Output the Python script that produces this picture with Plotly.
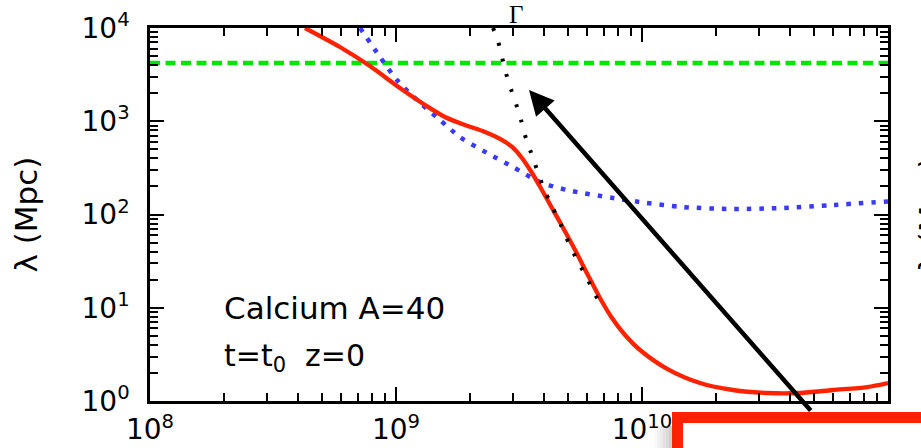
import plotly.graph_objects as go

# ---- data (log10 values) ----
red_logx = [8.630, 8.772, 8.894, 9.016, 9.118, 9.199, 9.280, 9.362, 9.423, 9.472,
            9.512, 9.553, 9.593, 9.634, 9.675, 9.728, 9.780, 9.829, 9.878, 9.931,
            9.992, 10.102, 10.236, 10.370, 10.508, 10.642, 10.776, 10.915, 11.000]
red_logy = [4.000, 3.796, 3.592, 3.356, 3.174, 3.046, 2.960, 2.885, 2.810, 2.724,
            2.606, 2.445, 2.263, 2.070, 1.877, 1.619, 1.351, 1.105, 0.890, 0.708,
            0.547, 0.345, 0.193, 0.118, 0.086, 0.086, 0.118, 0.150, 0.193]

blue_logx = [8.854, 8.935, 9.004, 9.085, 9.179, 9.260, 9.370, 9.476, 9.585, 9.695,
             9.882, 9.992, 10.167, 10.370, 10.573, 10.776, 11.000]
blue_logy = [4.000, 3.689, 3.442, 3.228, 3.013, 2.831, 2.660, 2.509, 2.349, 2.263,
             2.177, 2.134, 2.080, 2.059, 2.070, 2.102, 2.140]

gamma_logx = [9.394, 9.411, 9.447, 9.467, 9.488, 9.508, 9.524, 9.545, 9.565, 9.585,
              9.606, 9.630, 9.650, 9.671, 9.691, 9.711, 9.732, 9.780, 9.821]
gamma_logy = [4.000, 3.893, 3.517, 3.346, 3.185, 3.013, 2.853, 2.692, 2.542, 2.391,
              2.241, 2.123, 1.995, 1.887, 1.759, 1.651, 1.534, 1.298, 1.083]

green_logx = [8.0, 11.0]
green_logy = [3.625, 3.625]

x_tick_vals = [1e8, 1e9, 1e10, 1e11]
x_tick_text = ["10<sup>8</sup>", "10<sup>9</sup>", "10<sup>10</sup>", "10<sup>11</sup>"]
y_tick_vals = [1e0, 1e1, 1e2, 1e3, 1e4]
y_tick_text = ["10<sup>0</sup>", "10<sup>1</sup>", "10<sup>2</sup>", "10<sup>3</sup>", "10<sup>4</sup>"]

RED = "#ff2200"
BLUE = "#3a3aff"
GREEN = "#00e600"
SANS = "DejaVu Sans"

def pw(v):
    return [10 ** a for a in v]

fig = go.Figure()
fig.add_trace(go.Scatter(x=pw(green_logx), y=pw(green_logy), mode="lines",
                         line=dict(color=GREEN, width=4.5, dash="10px,5.5px")))
fig.add_trace(go.Scatter(x=pw(blue_logx), y=pw(blue_logy), mode="lines",
                         line=dict(color=BLUE, width=4.5, dash="4.5px,8px", shape="spline",
                                   smoothing=0.8)))
fig.add_trace(go.Scatter(x=pw(red_logx), y=pw(red_logy), mode="lines",
                         line=dict(color=RED, width=4.3, shape="spline", smoothing=0.8)))
fig.add_trace(go.Scatter(x=pw(gamma_logx), y=pw(gamma_logy), mode="lines",
                         line=dict(color="black", width=4, dash="3px,13px", shape="spline",
                                   smoothing=0.8)))

minor_x = [m * 10 ** k for k in range(8, 11) for m in range(2, 10)]
minor_y = [m * 10 ** k for k in range(0, 4) for m in range(2, 10)]

axis_common = dict(type="log", showline=True, linecolor="black", linewidth=2.5,
                   mirror="ticks", ticks="inside", ticklen=14, tickwidth=2,
                   tickcolor="black", showgrid=False, zeroline=False, automargin=False,
                   tickfont=dict(family=SANS, size=28, color="black"))

fig.update_xaxes(range=[8, 11], tickmode="array", tickvals=x_tick_vals, ticktext=x_tick_text,
                 minor=dict(tickmode="array", tickvals=minor_x, ticks="inside", ticklen=8,
                            tickwidth=1.5, tickcolor="black", showgrid=False),
                 ticklabelstandoff=2, **axis_common)
fig.update_yaxes(range=[0, 4], tickmode="array", tickvals=y_tick_vals, ticktext=y_tick_text,
                 minor=dict(tickmode="array", tickvals=minor_y, ticks="inside", ticklen=8,
                            tickwidth=1.5, tickcolor="black", showgrid=False),
                 ticklabelstandoff=12, **axis_common)

def px_x(p):
    return (p - 150) / 738.0

def px_y(p):
    return (401 - p) / 373.0

annotations = [
    dict(xref="paper", yref="paper", x=px_x(25), y=0.5, text="λ (Mpc)", textangle=-90,
         showarrow=False, font=dict(family=SANS, size=31, color="black"),
         xanchor="center", yanchor="middle"),
    dict(xref="paper", yref="paper", x=px_x(929), y=0.5, text="λ (Mpc)", textangle=-90,
         showarrow=False, font=dict(family=SANS, size=31, color="black"),
         xanchor="center", yanchor="middle"),
    dict(xref="paper", yref="paper", x=px_x(516), y=px_y(15), text="Γ",
         showarrow=False, font=dict(family="Liberation Serif", size=25, color="black"),
         xanchor="center", yanchor="middle"),
    dict(xref="paper", yref="paper", x=px_x(222), y=px_y(308), text="Calcium A=40",
         showarrow=False, font=dict(family=SANS, size=31, color="black"),
         xanchor="left", yanchor="middle"),
    dict(xref="paper", yref="paper", x=px_x(222), y=px_y(357),
         text="t=t<sub>0</sub>\u00a0\u00a0z=0",
         showarrow=False, font=dict(family=SANS, size=30, color="black"),
         xanchor="left", yanchor="middle"),
    dict(xref="x", yref="y", x=9.5407, y=3.335, text="", showarrow=True,
         axref="pixel", ayref="pixel", ax=283, ay=322,
         arrowhead=2, arrowsize=1.1, arrowwidth=4.5, arrowcolor="black", standoff=0),
]

shapes = []
# soft shadow left of the box
for i, op in enumerate([0.05, 0.1, 0.16, 0.23, 0.3, 0.38]):
    shapes.append(dict(type="rect", xref="paper", yref="paper",
                       x0=px_x(654 + 3 * i), x1=px_x(657 + 3 * i),
                       y0=px_y(470), y1=px_y(426),
                       line=dict(width=0), fillcolor="gray", opacity=op, layer="above"))
shapes.append(dict(type="rect", xref="paper", yref="paper",
                   x0=px_x(677.5), x1=px_x(1000), y0=px_y(417.5), y1=px_y(480),
                   line=dict(color=RED, width=11), fillcolor="white", layer="above"))

fig.update_layout(width=921, height=448,
                  margin=dict(l=150, r=33, t=28, b=47, autoexpand=False),
                  paper_bgcolor="white", plot_bgcolor="white", showlegend=False,
                  annotations=annotations, shapes=shapes)

fig.write_html("out.html")
